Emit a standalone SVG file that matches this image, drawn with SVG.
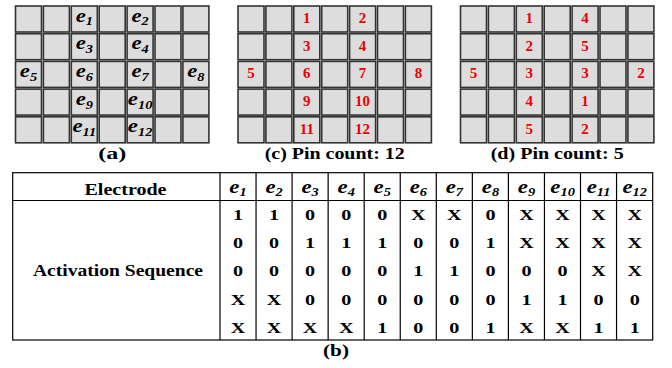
<svg xmlns="http://www.w3.org/2000/svg" width="672" height="368" viewBox="0 0 672 368">
<style>
.cell{fill:#dddddd;stroke:#333;stroke-width:1.6}
.e{font-family:"Liberation Serif","Times New Roman",serif;font-weight:bold;font-style:italic;font-size:19px;text-anchor:middle;fill:#000}
.s{font-size:12px}
.r{font-family:"Liberation Serif","Times New Roman",serif;font-weight:bold;font-size:15px;text-anchor:middle;fill:#ee0000}
.cap{font-family:"Liberation Serif","Times New Roman",serif;font-weight:bold;font-size:17px;text-anchor:middle;fill:#000}
.v{font-family:"Liberation Serif","Times New Roman",serif;font-weight:bold;font-size:15.5px;text-anchor:middle;fill:#000}
.tl{stroke:#000;stroke-width:1.2;fill:none}
</style>
<defs>
<g id="row">
<rect class="cell" x="0" y="0" width="26" height="26"/>
<rect class="cell" x="27.9" y="0" width="26" height="26"/>
<rect class="cell" x="55.8" y="0" width="26" height="26"/>
<rect class="cell" x="83.7" y="0" width="26" height="26"/>
<rect class="cell" x="111.6" y="0" width="26" height="26"/>
<rect class="cell" x="139.5" y="0" width="26" height="26"/>
<rect class="cell" x="167.4" y="0" width="26" height="26"/>
</g>
<g id="grid">
<use href="#row" y="0"/>
<use href="#row" y="27.7"/>
<use href="#row" y="55.4"/>
<use href="#row" y="83.1"/>
<use href="#row" y="110.8"/>
</g>
</defs>

<g id="gridA" transform="translate(15.5,6)">
<use href="#grid"/>
<g transform="scale(1.2,1)">
<text class="e" x="57.33" y="15.5">e<tspan class="s" dy="4">1</tspan></text>
<text class="e" x="103.83" y="15.5">e<tspan class="s" dy="4">2</tspan></text>
<text class="e" x="57.33" y="43.2">e<tspan class="s" dy="4">3</tspan></text>
<text class="e" x="103.83" y="43.2">e<tspan class="s" dy="4">4</tspan></text>
<text class="e" x="10.83" y="70.9">e<tspan class="s" dy="4">5</tspan></text>
<text class="e" x="57.33" y="70.9">e<tspan class="s" dy="4">6</tspan></text>
<text class="e" x="103.83" y="70.9">e<tspan class="s" dy="4">7</tspan></text>
<text class="e" x="150.33" y="70.9">e<tspan class="s" dy="4">8</tspan></text>
<text class="e" x="57.33" y="98.6">e<tspan class="s" dy="4">9</tspan></text>
<text class="e" x="103.83" y="98.6">e<tspan class="s" dy="4">10</tspan></text>
<text class="e" x="57.33" y="126.3">e<tspan class="s" dy="4">11</tspan></text>
<text class="e" x="103.83" y="126.3">e<tspan class="s" dy="4">12</tspan></text>
</g>
<text class="cap" x="96.7" y="152.5" textLength="28" lengthAdjust="spacingAndGlyphs">(a)</text>
</g>

<g id="gridC" transform="translate(238,6)">
<use href="#grid"/>
<text class="r" x="68.8" y="17">1</text>
<text class="r" x="124.6" y="17">2</text>
<text class="r" x="68.8" y="44.7">3</text>
<text class="r" x="124.6" y="44.7">4</text>
<text class="r" x="13" y="72.4">5</text>
<text class="r" x="68.8" y="72.4">6</text>
<text class="r" x="124.6" y="72.4">7</text>
<text class="r" x="180.4" y="72.4">8</text>
<text class="r" x="68.8" y="100.1">9</text>
<text class="r" x="124.6" y="100.1">10</text>
<text class="r" x="68.8" y="127.8">11</text>
<text class="r" x="124.6" y="127.8">12</text>
<text class="cap" x="96.7" y="153" textLength="140" lengthAdjust="spacingAndGlyphs">(c) Pin count: 12</text>
</g>

<g id="gridD" transform="translate(460.5,6)">
<use href="#grid"/>
<text class="r" x="68.8" y="17">1</text>
<text class="r" x="124.6" y="17">4</text>
<text class="r" x="68.8" y="44.7">2</text>
<text class="r" x="124.6" y="44.7">5</text>
<text class="r" x="13" y="72.4">5</text>
<text class="r" x="68.8" y="72.4">3</text>
<text class="r" x="124.6" y="72.4">3</text>
<text class="r" x="180.4" y="72.4">2</text>
<text class="r" x="68.8" y="100.1">4</text>
<text class="r" x="124.6" y="100.1">1</text>
<text class="r" x="68.8" y="127.8">5</text>
<text class="r" x="124.6" y="127.8">2</text>
<text class="cap" x="96.7" y="153" textLength="133" lengthAdjust="spacingAndGlyphs">(d) Pin count: 5</text>
</g>

<g id="table">
<rect class="tl" x="12.7" y="172.7" width="640" height="167.3"/>
<line class="tl" x1="12.7" y1="200.5" x2="652.7" y2="200.5" stroke-width="1.6"/>
<line class="tl" x1="220" y1="172.7" x2="220" y2="340" stroke-width="1.6"/>
<line class="tl" x1="256.05" y1="172.7" x2="256.05" y2="340"/>
<line class="tl" x1="292.1" y1="172.7" x2="292.1" y2="340"/>
<line class="tl" x1="328.15" y1="172.7" x2="328.15" y2="340"/>
<line class="tl" x1="364.2" y1="172.7" x2="364.2" y2="340"/>
<line class="tl" x1="400.25" y1="172.7" x2="400.25" y2="340" stroke-width="1.6"/>
<line class="tl" x1="436.3" y1="172.7" x2="436.3" y2="340"/>
<line class="tl" x1="472.35" y1="172.7" x2="472.35" y2="340"/>
<line class="tl" x1="508.4" y1="172.7" x2="508.4" y2="340" stroke-width="1.6"/>
<line class="tl" x1="544.45" y1="172.7" x2="544.45" y2="340"/>
<line class="tl" x1="580.5" y1="172.7" x2="580.5" y2="340"/>
<line class="tl" x1="616.55" y1="172.7" x2="616.55" y2="340"/>

<text class="cap" x="125.5" y="194.5" textLength="82" lengthAdjust="spacingAndGlyphs">Electrode</text>
<text class="cap" x="118" y="275.5" textLength="170" lengthAdjust="spacingAndGlyphs">Activation Sequence</text>

<g transform="scale(1.2,1)">
<text class="e" x="198.36" y="193.5">e<tspan class="s" dy="3">1</tspan></text>
<text class="e" x="228.41" y="193.5">e<tspan class="s" dy="3">2</tspan></text>
<text class="e" x="258.46" y="193.5">e<tspan class="s" dy="3">3</tspan></text>
<text class="e" x="288.51" y="193.5">e<tspan class="s" dy="3">4</tspan></text>
<text class="e" x="318.56" y="193.5">e<tspan class="s" dy="3">5</tspan></text>
<text class="e" x="348.61" y="193.5">e<tspan class="s" dy="3">6</tspan></text>
<text class="e" x="378.66" y="193.5">e<tspan class="s" dy="3">7</tspan></text>
<text class="e" x="408.71" y="193.5">e<tspan class="s" dy="3">8</tspan></text>
<text class="e" x="438.76" y="193.5">e<tspan class="s" dy="3">9</tspan></text>
<text class="e" x="468.81" y="193.5">e<tspan class="s" dy="3">10</tspan></text>
<text class="e" x="498.86" y="193.5">e<tspan class="s" dy="3">11</tspan></text>
<text class="e" x="528.91" y="193.5">e<tspan class="s" dy="3">12</tspan></text>
</g>

<g transform="scale(1.3,1)">
<g id="row1">
<text class="v" x="183.1" y="220">1</text><text class="v" x="210.84" y="220">1</text><text class="v" x="238.58" y="220">0</text><text class="v" x="266.32" y="220">0</text><text class="v" x="294.05" y="220">0</text><text class="v" x="321.79" y="220">X</text><text class="v" x="349.53" y="220">X</text><text class="v" x="377.27" y="220">0</text><text class="v" x="405.01" y="220">X</text><text class="v" x="432.75" y="220">X</text><text class="v" x="460.48" y="220">X</text><text class="v" x="488.22" y="220">X</text>
</g>
<g id="row2">
<text class="v" x="183.1" y="248.2">0</text><text class="v" x="210.84" y="248.2">0</text><text class="v" x="238.58" y="248.2">1</text><text class="v" x="266.32" y="248.2">1</text><text class="v" x="294.05" y="248.2">1</text><text class="v" x="321.79" y="248.2">0</text><text class="v" x="349.53" y="248.2">0</text><text class="v" x="377.27" y="248.2">1</text><text class="v" x="405.01" y="248.2">X</text><text class="v" x="432.75" y="248.2">X</text><text class="v" x="460.48" y="248.2">X</text><text class="v" x="488.22" y="248.2">X</text>
</g>
<g id="row3">
<text class="v" x="183.1" y="276.4">0</text><text class="v" x="210.84" y="276.4">0</text><text class="v" x="238.58" y="276.4">0</text><text class="v" x="266.32" y="276.4">0</text><text class="v" x="294.05" y="276.4">0</text><text class="v" x="321.79" y="276.4">1</text><text class="v" x="349.53" y="276.4">1</text><text class="v" x="377.27" y="276.4">0</text><text class="v" x="405.01" y="276.4">0</text><text class="v" x="432.75" y="276.4">0</text><text class="v" x="460.48" y="276.4">X</text><text class="v" x="488.22" y="276.4">X</text>
</g>
<g id="row4">
<text class="v" x="183.1" y="304.6">X</text><text class="v" x="210.84" y="304.6">X</text><text class="v" x="238.58" y="304.6">0</text><text class="v" x="266.32" y="304.6">0</text><text class="v" x="294.05" y="304.6">0</text><text class="v" x="321.79" y="304.6">0</text><text class="v" x="349.53" y="304.6">0</text><text class="v" x="377.27" y="304.6">0</text><text class="v" x="405.01" y="304.6">1</text><text class="v" x="432.75" y="304.6">1</text><text class="v" x="460.48" y="304.6">0</text><text class="v" x="488.22" y="304.6">0</text>
</g>
<g id="row5">
<text class="v" x="183.1" y="332.8">X</text><text class="v" x="210.84" y="332.8">X</text><text class="v" x="238.58" y="332.8">X</text><text class="v" x="266.32" y="332.8">X</text><text class="v" x="294.05" y="332.8">1</text><text class="v" x="321.79" y="332.8">0</text><text class="v" x="349.53" y="332.8">0</text><text class="v" x="377.27" y="332.8">1</text><text class="v" x="405.01" y="332.8">X</text><text class="v" x="432.75" y="332.8">X</text><text class="v" x="460.48" y="332.8">1</text><text class="v" x="488.22" y="332.8">1</text>
</g>
</g>
<text class="cap" x="336" y="356" textLength="26" lengthAdjust="spacingAndGlyphs">(b)</text>
</g>
</svg>
